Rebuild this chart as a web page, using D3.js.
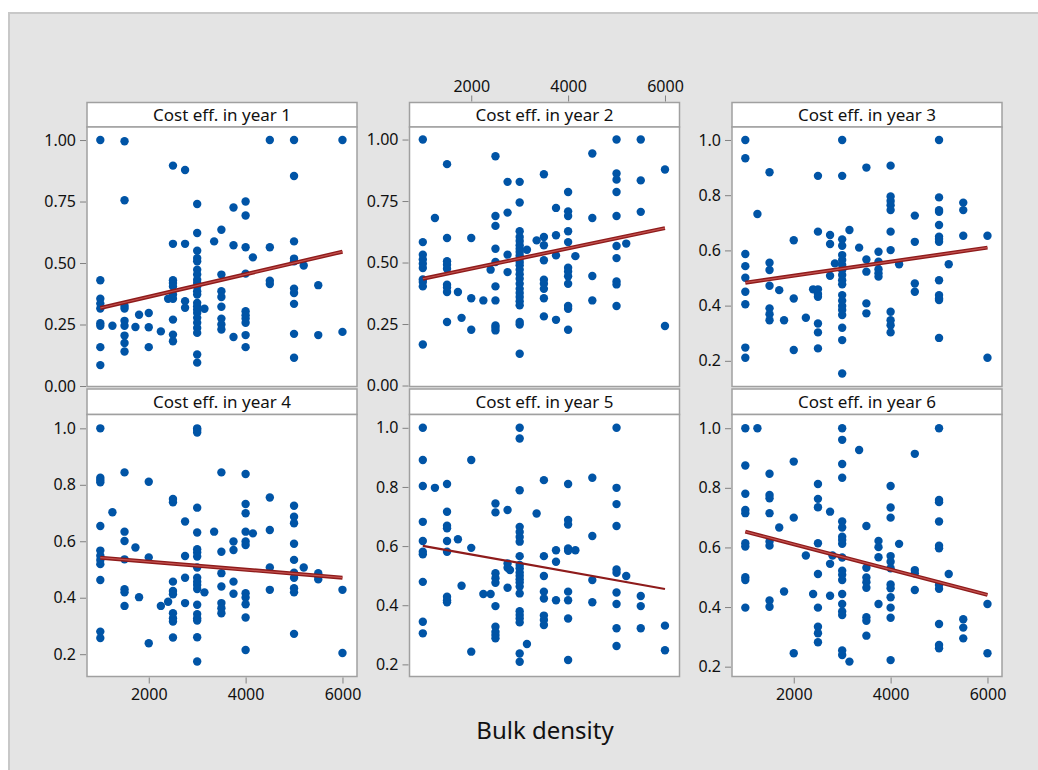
<!DOCTYPE html>
<html>
    <head>
        <title>Cost efficiency by bulk density</title>
        <meta charset="UTF-8">
        <script type="text/javascript" src="https://cdn.jsdelivr.net/npm/d3@7"></script>
        <style type="text/css">
            body { margin: 0; background: #ffffff; }
            text { font-family: "Noto Sans", "Open Sans", sans-serif; fill: #111111; }
        </style>
    </head>
    <body>
        <div id="chart"></div>

        <script type="text/javascript">

            // Each year: list of [bulk density, [cost eff. values at that density]]
            var year1 = [
                [1000, [1.00, 0.43, 0.355, 0.335, 0.315, 0.255, 0.245, 0.158, 0.085]],
                [1250, [0.245]],
                [1500, [0.995, 0.755, 0.325, 0.315, 0.265, 0.245, 0.205, 0.175, 0.14]],
                [1725, [0.24]],
                [1800, [0.29]],
                [2000, [0.297, 0.239, 0.158]],
                [2250, [0.222]],
                [2400, [0.355]],
                [2500, [0.896, 0.578, 0.43, 0.419, 0.405, 0.372, 0.355, 0.27, 0.209, 0.182]],
                [2750, [0.878, 0.578, 0.345, 0.318]],
                [3000, [0.74, 0.622, 0.55, 0.52, 0.507, 0.473, 0.453, 0.432, 0.419, 0.405, 0.385, 0.372, 0.338, 0.324, 0.311, 0.297, 0.277, 0.257, 0.236, 0.216, 0.128, 0.095]],
                [3150, [0.314]],
                [3350, [0.588]],
                [3500, [0.635, 0.453, 0.385, 0.362, 0.322, 0.274, 0.25, 0.23]],
                [3750, [0.726, 0.572, 0.199]],
                [4000, [0.75, 0.693, 0.564, 0.457, 0.304, 0.288, 0.274, 0.257, 0.207, 0.158]],
                [4150, [0.523]],
                [4500, [1.00, 0.564, 0.428, 0.415]],
                [5000, [1.00, 0.854, 0.588, 0.518, 0.507, 0.396, 0.378, 0.334, 0.212, 0.115]],
                [5200, [0.49]],
                [5500, [0.41, 0.207]],
                [6000, [1.00, 0.22]]
            ];

            var year2 = [
                [1000, [1.00, 0.583, 0.532, 0.512, 0.495, 0.478, 0.431, 0.421, 0.403, 0.167]],
                [1250, [0.681]],
                [1500, [0.90, 0.60, 0.505, 0.491, 0.475, 0.41, 0.398, 0.38, 0.258]],
                [1725, [0.38]],
                [1800, [0.275]],
                [2000, [0.60, 0.355, 0.227]],
                [2250, [0.346]],
                [2400, [0.471]],
                [2500, [0.932, 0.689, 0.649, 0.556, 0.502, 0.403, 0.346, 0.244, 0.235, 0.224]],
                [2750, [0.828, 0.703, 0.532, 0.461]],
                [3000, [0.828, 0.744, 0.627, 0.604, 0.588, 0.57, 0.556, 0.543, 0.529, 0.516, 0.502, 0.489, 0.471, 0.452, 0.434, 0.414, 0.393, 0.376, 0.36, 0.343, 0.326, 0.258, 0.248, 0.129]],
                [3150, [0.552]],
                [3350, [0.59]],
                [3500, [0.859, 0.604, 0.57, 0.509, 0.43, 0.414, 0.393, 0.355, 0.281]],
                [3750, [0.722, 0.611, 0.529, 0.267]],
                [4000, [0.787, 0.708, 0.689, 0.627, 0.583, 0.479, 0.464, 0.444, 0.414, 0.323, 0.312, 0.227]],
                [4150, [0.526]],
                [4500, [0.943, 0.681, 0.445, 0.346]],
                [5000, [1.00, 0.862, 0.837, 0.787, 0.689, 0.567, 0.518, 0.423, 0.411, 0.323]],
                [5200, [0.577]],
                [5500, [1.00, 0.834, 0.706]],
                [6000, [0.878, 0.242]]
            ];

            var year3 = [
                [1000, [1.00, 0.934, 0.587, 0.543, 0.501, 0.45, 0.405, 0.248, 0.211]],
                [1250, [0.732]],
                [1500, [0.883, 0.555, 0.529, 0.472, 0.39, 0.369, 0.347]],
                [1700, [0.456]],
                [1800, [0.347]],
                [2000, [0.637, 0.426, 0.239]],
                [2250, [0.356]],
                [2400, [0.459]],
                [2500, [0.87, 0.668, 0.459, 0.442, 0.432, 0.335, 0.303, 0.245]],
                [2750, [0.656, 0.623, 0.508]],
                [2850, [0.553]],
                [3000, [1.00, 0.87, 0.64, 0.617, 0.583, 0.565, 0.547, 0.529, 0.511, 0.492, 0.477, 0.438, 0.418, 0.399, 0.384, 0.366, 0.32, 0.275, 0.154]],
                [3150, [0.674]],
                [3350, [0.61]],
                [3500, [0.90, 0.567, 0.523, 0.408, 0.372]],
                [3750, [0.595, 0.559, 0.532, 0.517, 0.505]],
                [4000, [0.907, 0.795, 0.779, 0.764, 0.746, 0.668, 0.601, 0.378, 0.347, 0.329, 0.303]],
                [4175, [0.55]],
                [4500, [0.726, 0.631, 0.48, 0.45]],
                [5000, [1.00, 0.792, 0.746, 0.74, 0.692, 0.65, 0.641, 0.631, 0.492, 0.438, 0.426, 0.42, 0.283]],
                [5200, [0.55]],
                [5500, [0.773, 0.746, 0.653]],
                [6000, [0.653, 0.211]]
            ];

            var year4 = [
                [1000, [1.00, 0.825, 0.817, 0.809, 0.654, 0.567, 0.549, 0.534, 0.519, 0.463, 0.28, 0.257]],
                [1250, [0.703]],
                [1500, [0.844, 0.634, 0.601, 0.536, 0.43, 0.419, 0.371]],
                [1725, [0.578]],
                [1800, [0.402]],
                [2000, [0.811, 0.543, 0.239]],
                [2250, [0.371]],
                [2400, [0.386]],
                [2500, [0.75, 0.738, 0.457, 0.424, 0.412, 0.345, 0.327, 0.316, 0.259]],
                [2750, [0.67, 0.548, 0.471, 0.381]],
                [3000, [1.00, 0.994, 0.985, 0.719, 0.631, 0.572, 0.56, 0.546, 0.507, 0.471, 0.457, 0.445, 0.431, 0.375, 0.342, 0.327, 0.319, 0.26, 0.174]],
                [3150, [0.419]],
                [3350, [0.634]],
                [3500, [0.844, 0.563, 0.487, 0.44, 0.381, 0.363, 0.345]],
                [3750, [0.599, 0.569, 0.457, 0.414]],
                [4000, [0.838, 0.732, 0.699, 0.634, 0.599, 0.587, 0.416, 0.401, 0.377, 0.33, 0.215]],
                [4150, [0.628]],
                [4500, [0.755, 0.64, 0.507, 0.428]],
                [5000, [0.726, 0.687, 0.664, 0.591, 0.534, 0.489, 0.471, 0.434, 0.419, 0.272]],
                [5200, [0.507]],
                [5500, [0.487, 0.475, 0.465]],
                [6000, [0.428, 0.204]]
            ];

            var year5 = [
                [1000, [1.00, 0.891, 0.803, 0.682, 0.617, 0.581, 0.572, 0.479, 0.344, 0.305]],
                [1250, [0.797]],
                [1500, [0.81, 0.716, 0.669, 0.66, 0.617, 0.581, 0.429, 0.417, 0.41]],
                [1725, [0.623]],
                [1800, [0.466]],
                [2000, [0.891, 0.594, 0.243]],
                [2250, [0.438]],
                [2400, [0.438]],
                [2500, [0.744, 0.714, 0.508, 0.491, 0.476, 0.397, 0.327, 0.31, 0.299, 0.288]],
                [2750, [0.722, 0.541, 0.527, 0.459]],
                [2800, [0.519]],
                [3000, [1.00, 0.964, 0.789, 0.665, 0.648, 0.631, 0.615, 0.566, 0.536, 0.525, 0.511, 0.50, 0.488, 0.477, 0.463, 0.44, 0.38, 0.367, 0.355, 0.342, 0.237, 0.209]],
                [3150, [0.269]],
                [3350, [0.71]],
                [3500, [0.823, 0.566, 0.499, 0.446, 0.423, 0.365, 0.35, 0.333]],
                [3750, [0.586, 0.547, 0.417]],
                [4000, [0.81, 0.688, 0.673, 0.592, 0.584, 0.446, 0.417, 0.355, 0.215]],
                [4150, [0.586]],
                [4500, [0.831, 0.634, 0.485, 0.41]],
                [5000, [1.00, 0.797, 0.742, 0.668, 0.521, 0.51, 0.443, 0.404, 0.322, 0.262]],
                [5200, [0.499]],
                [5500, [0.431, 0.397, 0.322]],
                [6000, [0.331, 0.248]]
            ];

            var year6 = [
                [1000, [1.00, 0.875, 0.78, 0.726, 0.715, 0.614, 0.603, 0.50, 0.491, 0.398]],
                [1250, [1.00]],
                [1500, [0.847, 0.776, 0.765, 0.715, 0.62, 0.606, 0.422, 0.401]],
                [1700, [0.667]],
                [1800, [0.452]],
                [2000, [0.888, 0.70, 0.245]],
                [2250, [0.573]],
                [2400, [0.444]],
                [2500, [0.813, 0.763, 0.735, 0.614, 0.511, 0.398, 0.334, 0.312, 0.282]],
                [2750, [0.72, 0.545, 0.438]],
                [2800, [0.573]],
                [3000, [1.00, 0.961, 0.88, 0.834, 0.687, 0.667, 0.636, 0.625, 0.612, 0.566, 0.522, 0.508, 0.491, 0.444, 0.41, 0.385, 0.373, 0.254, 0.239]],
                [3150, [0.217]],
                [3350, [0.927]],
                [3500, [0.672, 0.532, 0.499, 0.483, 0.465, 0.366, 0.354, 0.304]],
                [3750, [0.622, 0.601, 0.567, 0.41]],
                [4000, [0.806, 0.734, 0.70, 0.571, 0.552, 0.53, 0.476, 0.463, 0.433, 0.398, 0.364, 0.222]],
                [4175, [0.612]],
                [4500, [0.914, 0.524, 0.513, 0.457]],
                [5000, [1.00, 0.759, 0.752, 0.687, 0.606, 0.597, 0.474, 0.461, 0.343, 0.273, 0.262]],
                [5200, [0.511]],
                [5500, [0.359, 0.331, 0.295]],
                [6000, [0.41, 0.245]]
            ];

            var panelTitles = ["Cost eff. in year 1", "Cost eff. in year 2", "Cost eff. in year 3",
                "Cost eff. in year 4", "Cost eff. in year 5", "Cost eff. in year 6"];

            // fitted line values at bulk density 1000 and 6000
            var fitAt1000 = [0.317, 0.434, 0.483, 0.542, 0.601, 0.653];
            var fitAt6000 = [0.546, 0.640, 0.610, 0.471, 0.455, 0.441];
            var fitRange = [1000, 6000];

            var xTicks = [2000, 4000, 6000];
            var yTicksA = [0, 0.25, 0.5, 0.75, 1.0];
            var yTicksB = [0.2, 0.4, 0.6, 0.8, 1.0];

            // y scale domain per panel (Minitab picks its own per panel)
            var yDomains = [[-0.002, 1.053], [-0.004, 1.051], [0.107, 1.047],
                [0.121, 1.049], [0.159, 1.045], [0.167, 1.046]];
            var xDomain = [725, 6300];

            ///////////////////////////////////////////////////////////////
            // Layout
            ///////////////////////////////////////////////////////////////
            var svgW = 1038, svgH = 770;
            var colX = [87, 409.5, 732];
            var panelW = 270;
            var headTop = [102.5, 389];
            var plotTop = [127, 414.5];
            var plotBot = [386.5, 676.5];
            var dotColor = "#0054a6";
            var frameColor = "#a0a0a0";
            var years = [year1, year2, year3, year4, year5, year6];

            var svg = d3.select("#chart").append("svg")
                    .attr("width", svgW)
                    .attr("height", svgH);

            svg.append("rect")
                    .attr("x", 0).attr("y", 0)
                    .attr("width", svgW).attr("height", svgH)
                    .attr("fill", "#ffffff");
            svg.append("rect")
                    .attr("x", 9).attr("y", 13)
                    .attr("width", svgW + 20).attr("height", svgH)
                    .attr("fill", "#e4e4e4")
                    .attr("stroke", "#c8c8c8")
                    .attr("stroke-width", 2);

            years.forEach(function (yearData, p) {
                var col = p % 3, row = Math.floor(p / 3);
                var x0 = colX[col];
                var x = d3.scaleLinear().domain(xDomain).range([x0, x0 + panelW]);
                var y = d3.scaleLinear().domain(yDomains[p]).range([plotBot[row], plotTop[row]]);
                var g = svg.append("g");

                // header strip
                g.append("rect")
                        .attr("x", x0).attr("y", headTop[row])
                        .attr("width", panelW).attr("height", plotTop[row] - headTop[row])
                        .attr("fill", "#ffffff")
                        .attr("stroke", frameColor)
                        .attr("stroke-width", 1.5);
                g.append("text")
                        .attr("x", x0 + panelW / 2)
                        .attr("y", (headTop[row] + plotTop[row]) / 2 + 6)
                        .attr("text-anchor", "middle")
                        .style("font-size", "17px")
                        .text(panelTitles[p]);

                // plot area
                g.append("rect")
                        .attr("x", x0).attr("y", plotTop[row])
                        .attr("width", panelW).attr("height", plotBot[row] - plotTop[row])
                        .attr("fill", "#ffffff")
                        .attr("stroke", frameColor)
                        .attr("stroke-width", 1.5);

                // y axis
                var yTicks = p < 2 ? yTicksA : yTicksB;
                var yAxis = d3.axisLeft(y)
                        .tickValues(yTicks)
                        .tickSize(6)
                        .tickPadding(4)
                        .tickFormat(d3.format(p < 2 ? ".2f" : ".1f"));
                var ya = g.append("g")
                        .attr("transform", "translate(" + (x0 - 1) + ",0)")
                        .call(yAxis);
                ya.select(".domain").remove();
                ya.selectAll(".tick line").attr("stroke", "#808080");
                ya.selectAll(".tick text").style("font-size", "16px").attr("fill", "#111111");

                // x axes: top on year 2, bottom on years 4 and 6
                if (p === 1 || p === 3 || p === 5) {
                    var xa;
                    if (p === 1) {
                        xa = g.append("g")
                                .attr("transform", "translate(0," + (headTop[row] - 1) + ")")
                                .call(d3.axisTop(x).tickValues(xTicks).tickSize(6).tickPadding(4).tickFormat(d3.format("d")));
                    } else {
                        xa = g.append("g")
                                .attr("transform", "translate(0," + (plotBot[row] + 1) + ")")
                                .call(d3.axisBottom(x).tickValues(xTicks).tickSize(6).tickPadding(5).tickFormat(d3.format("d")));
                    }
                    xa.select(".domain").remove();
                    xa.selectAll(".tick line").attr("stroke", "#808080");
                    xa.selectAll(".tick text").style("font-size", "16px").attr("fill", "#111111");
                }

                // points
                var pts = [];
                yearData.forEach(function (d) {
                    d[1].forEach(function (v) {
                        pts.push({bd: d[0], ce: v});
                    });
                });
                g.selectAll("circle")
                        .data(pts)
                        .enter()
                        .append("circle")
                        .attr("cx", function (d) { return x(d.bd); })
                        .attr("cy", function (d) { return y(d.ce); })
                        .attr("r", 4.2)
                        .attr("fill", dotColor);

                // fitted line
                var fit = [[fitRange[0], fitAt1000[p]], [fitRange[1], fitAt6000[p]]];
                var line = d3.line()
                        .x(function (d) { return x(d[0]); })
                        .y(function (d) { return y(d[1]); });
                var thin = (p === 4);
                g.append("path")
                        .attr("d", line(fit))
                        .attr("fill", "none")
                        .attr("stroke", "#8e1b1b")
                        .attr("stroke-width", thin ? 2.2 : 4);
                if (!thin) {
                    g.append("path")
                            .attr("d", line(fit))
                            .attr("fill", "none")
                            .attr("stroke", "#c4524f")
                            .attr("stroke-width", 1.2);
                }
            });

            svg.append("text")
                    .attr("x", 545)
                    .attr("y", 739)
                    .attr("text-anchor", "middle")
                    .style("font-size", "24px")
                    .text("Bulk density");
        </script>

    </body>
</html>
